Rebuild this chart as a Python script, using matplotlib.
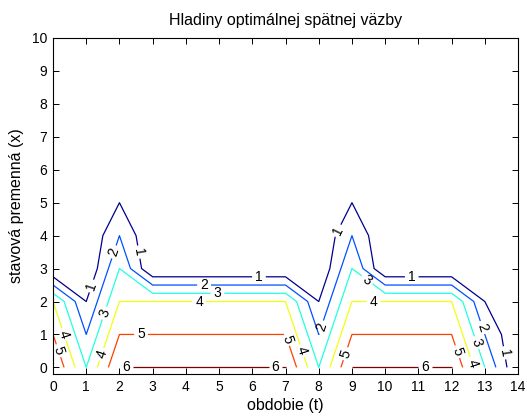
import numpy as np
import matplotlib
matplotlib.use("Agg")
import matplotlib.pyplot as plt

plt.rcParams['font.family'] = ['Liberation Sans', 'DejaVu Sans']

# grid
t_values = list(range(0, 15))          # obdobie (t)
x_values = list(range(0, 11))          # stavova premenna (x)

# optimal feedback u(t, x): one list per period t, over x = 0..10
u_t0  = [6, 5, 4, 0, 0, 0, 0, 0, 0, 0, 0]
u_t1  = [3, 2, 1, 0, 0, 0, 0, 0, 0, 0, 0]
u_t2  = [6, 5, 4, 3, 2, 1, 0, 0, 0, 0, 0]
u_t3  = [6, 5, 4, 0, 0, 0, 0, 0, 0, 0, 0]
u_t4  = [6, 5, 4, 0, 0, 0, 0, 0, 0, 0, 0]
u_t5  = [6, 5, 4, 0, 0, 0, 0, 0, 0, 0, 0]
u_t6  = [6, 5, 4, 0, 0, 0, 0, 0, 0, 0, 0]
u_t7  = [6, 5, 4, 0, 0, 0, 0, 0, 0, 0, 0]
u_t8  = [3, 2, 1, 0, 0, 0, 0, 0, 0, 0, 0]
u_t9  = [6, 5, 4, 3, 2, 1, 0, 0, 0, 0, 0]
u_t10 = [6, 5, 4, 0, 0, 0, 0, 0, 0, 0, 0]
u_t11 = [6, 5, 4, 0, 0, 0, 0, 0, 0, 0, 0]
u_t12 = [6, 5, 4, 0, 0, 0, 0, 0, 0, 0, 0]
u_t13 = [3, 2, 1, 0, 0, 0, 0, 0, 0, 0, 0]
u_t14 = [0, 0, 0, 0, 0, 0, 0, 0, 0, 0, 0]

contour_levels = [1, 2, 3, 4, 5, 6]
# MATLAB jet(64) entries for the six levels
level_colors = ['#00008f', '#0050ff', '#20ffdf', '#efff10', '#ff4000', '#800000']

columns = [u_t0, u_t1, u_t2, u_t3, u_t4, u_t5, u_t6, u_t7,
           u_t8, u_t9, u_t10, u_t11, u_t12, u_t13, u_t14]
Z = np.array(columns, dtype=float).T      # rows = x, cols = t
T, X = np.meshgrid(t_values, x_values)

# MATLAB draws a level that equals the boundary value; nudge top level slightly
draw_levels = [float(l) for l in contour_levels]
draw_levels[-1] = draw_levels[-1] - 1e-9

fig = plt.figure(figsize=(5.27, 4.16), dpi=100)
ax = fig.add_axes([0.1006, 0.101, 0.8824, 0.8077])

cs = ax.contour(T, X, Z, levels=draw_levels, colors=level_colors,
                linewidths=0.9)

label_pos = [
    # level 1
    (1.22, 2.45), (2.58, 3.5), (6.2, 2.75), (8.68, 4.1), (10.8, 2.75), (13.65, 0.45),
    # level 2
    (1.85, 3.5), (4.55, 2.5), (8.15, 1.2), (12.9, 1.2),
    # level 3
    (1.55, 1.65), (4.95, 2.25), (9.45, 2.65), (12.75, 0.75),
    # level 4
    (0.3, 1.0), (1.45, 0.4), (4.4, 2.0), (7.5, 0.5), (9.65, 2.0), (12.7, 0.15),
    # level 5
    (0.15, 0.5), (2.65, 1.0), (6.9, 0.8), (8.85, 0.4), (12.25, 0.5),
    # level 6
    (2.2, 0.0), (6.7, 0.0), (11.2, 0.0),
]
ax.clabel(cs, inline=True, fontsize=10, colors='k', inline_spacing=3,
          fmt=lambda v: f"{int(round(v))}", manual=label_pos)

ax.set_xlim(0, 14)
ax.set_ylim(-0.2, 10)
ax.set_xticks(range(0, 15))
ax.set_yticks(range(0, 11))
ax.tick_params(direction='in', top=True, right=True, length=4, width=0.7,
               labelsize=10, pad=4)
for s in ax.spines.values():
    s.set_linewidth(0.8)

ax.set_title("Hladiny optimálnej spätnej väzby", fontsize=11.5, pad=9)
ax.set_xlabel("obdobie (t)", fontsize=11.5, labelpad=3)
ax.set_ylabel("stavová premenná (x)", fontsize=11.5, labelpad=6)

fig.savefig("out.png", dpi=100)
